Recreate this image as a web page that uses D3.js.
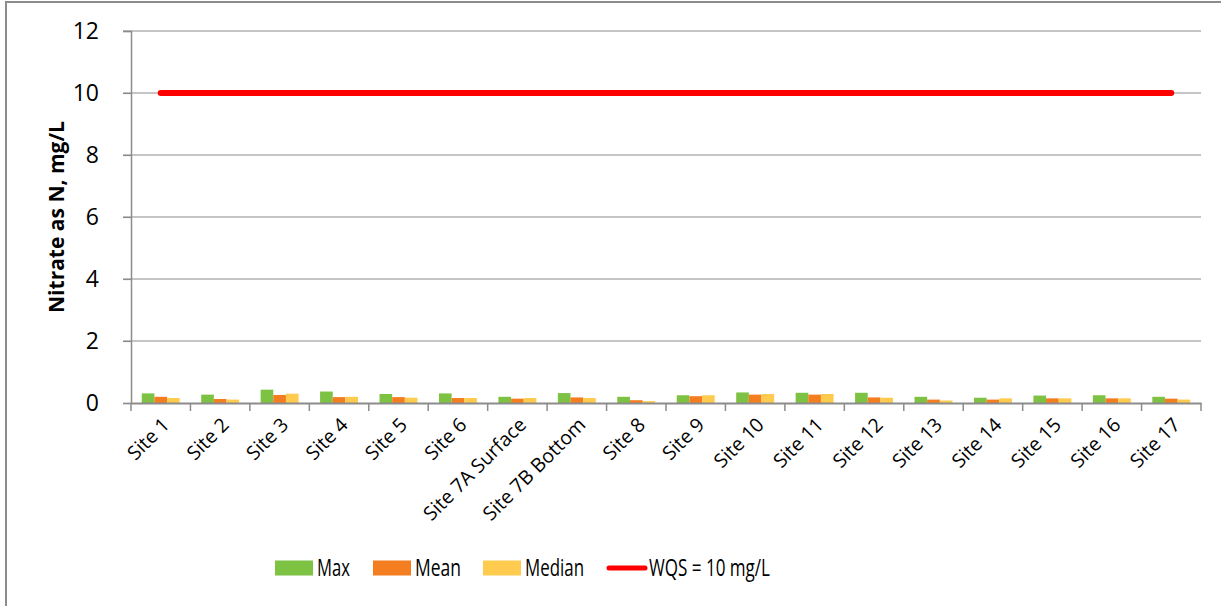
<!DOCTYPE html>
<html>
<head>
<meta charset="utf-8">
<script src="https://cdn.jsdelivr.net/npm/d3@7"></script>
<style>
  body { margin: 0; background: #fff; }
  text { font-family: "Open Sans", sans-serif; fill: #000; }
</style>
</head>
<body>
<svg id="chart" width="1221" height="606"></svg>
<script>
var sites = ["Site 1", "Site 2", "Site 3", "Site 4", "Site 5", "Site 6", "Site 7A Surface", "Site 7B Bottom",
  "Site 8", "Site 9", "Site 10", "Site 11", "Site 12", "Site 13", "Site 14", "Site 15", "Site 16", "Site 17"]
var maxValues    = [0.31, 0.27, 0.43, 0.37, 0.29, 0.31, 0.20, 0.32, 0.20, 0.25, 0.34, 0.33, 0.33, 0.20, 0.17, 0.24, 0.25, 0.20]
var meanValues   = [0.20, 0.13, 0.26, 0.19, 0.19, 0.16, 0.14, 0.18, 0.09, 0.22, 0.27, 0.27, 0.18, 0.11, 0.11, 0.15, 0.15, 0.14]
var medianValues = [0.16, 0.11, 0.30, 0.20, 0.17, 0.16, 0.16, 0.16, 0.06, 0.25, 0.29, 0.29, 0.17, 0.08, 0.15, 0.15, 0.15, 0.11]
var wqs = 10
var yTicks = [0, 2, 4, 6, 8, 10, 12]

var series = [
  { name: "Max", values: maxValues, color: "#7dc242" },
  { name: "Mean", values: meanValues, color: "#f47d20" },
  { name: "Median", values: medianValues, color: "#ffcb4e" }
]

var svg = d3.select("#chart")

// outer frame (runs off right and bottom edges like the original)
svg.append("rect")
  .attr("x", 6).attr("y", 2)
  .attr("width", 1300).attr("height", 700)
  .attr("fill", "none").attr("stroke", "#8c8c8c").attr("stroke-width", 2)

var plotLeft = 131, plotRight = 1201, plotTop = 31, plotBottom = 403

var x = d3.scaleBand().domain(sites).range([plotLeft, plotRight]).padding(0)
var xSub = d3.scaleBand().domain(series.map(function(s){ return s.name }))
  .range([0, x.bandwidth()]).paddingInner(0).paddingOuter(0.85)
var y = d3.scaleLinear().domain([0, 12]).range([plotBottom, plotTop])

// gridlines
svg.append("g").selectAll("line")
  .data(yTicks.filter(function(d){ return d > 0 }))
  .enter().append("line")
  .attr("x1", plotLeft - 8).attr("x2", plotRight)
  .attr("y1", function(d){ return y(d) }).attr("y2", function(d){ return y(d) })
  .attr("stroke", "#8c8c8c").attr("stroke-width", 1.2)

// y axis
var yAxis = svg.append("g").attr("transform", "translate(" + plotLeft + ",0)")
  .call(d3.axisLeft(y).tickValues(yTicks).tickSize(8).tickPadding(24))
yAxis.select(".domain").attr("stroke", "#8c8c8c").attr("stroke-width", 1.5)
yAxis.selectAll(".tick line").attr("stroke", "#8c8c8c").attr("stroke-width", 1.2)
yAxis.selectAll(".tick text").style("font-size", "23px").attr("fill", "#000")

// bars
series.forEach(function(s){
  svg.append("g").selectAll("rect")
    .data(s.values)
    .enter().append("rect")
    .attr("x", function(d, i){ return x(sites[i]) + xSub(s.name) })
    .attr("y", function(d){ return y(d) })
    .attr("width", xSub.bandwidth())
    .attr("height", function(d){ return y(0) - y(d) })
    .attr("fill", s.color)
})

// x axis
var xAxis = svg.append("g").attr("transform", "translate(0," + plotBottom + ")")
  .call(d3.axisBottom(x).tickSize(0).tickFormat(""))
xAxis.select(".domain").attr("stroke", "#8c8c8c").attr("stroke-width", 2)
xAxis.selectAll(".tick").remove()

// category boundary ticks
var bounds = sites.map(function(s){ return x(s) }).concat([plotRight])
svg.append("g").selectAll("line")
  .data(bounds)
  .enter().append("line")
  .attr("x1", function(d){ return d }).attr("x2", function(d){ return d })
  .attr("y1", plotBottom).attr("y2", plotBottom + 8)
  .attr("stroke", "#8c8c8c").attr("stroke-width", 1.5)

// rotated labels
svg.append("g").selectAll("text")
  .data(sites)
  .enter().append("text")
  .attr("transform", function(d){
    return "translate(" + (x(d) + x.bandwidth() / 2 + 10) + "," + (plotBottom + 23) + ") rotate(-45)"
  })
  .attr("text-anchor", "end")
  .style("font-size", "19.5px")
  .text(function(d){ return d })

// WQS line
var line = d3.line()
  .x(function(d){ return x(d) + x.bandwidth() / 2 })
  .y(function(){ return y(wqs) })
svg.append("path")
  .datum(sites)
  .attr("d", line)
  .attr("fill", "none")
  .attr("stroke", "#ff0000")
  .attr("stroke-width", 6)
  .attr("stroke-linecap", "round")

// y title
svg.append("text")
  .attr("transform", "translate(64," + ((plotTop + plotBottom) / 2) + ") rotate(-90)")
  .attr("text-anchor", "middle")
  .style("font-size", "21px")
  .style("font-weight", "bold")
  .text("Nitrate as N, mg/L")

// legend
var legendY = 568
var legendItems = [
  { name: "Max", color: "#7dc242", x: 275, w: 33, type: "rect" },
  { name: "Mean", color: "#f47d20", x: 373, w: 46, type: "rect" },
  { name: "Median", color: "#ffcb4e", x: 483, w: 59, type: "rect" },
  { name: "WQS = 10 mg/L", color: "#ff0000", x: 607, w: 121, type: "line" }
]
var legend = svg.append("g")
legendItems.forEach(function(item){
  if (item.type == "rect") {
    legend.append("rect")
      .attr("x", item.x).attr("y", legendY - 7.5)
      .attr("width", 38).attr("height", 15)
      .attr("fill", item.color)
  } else {
    legend.append("line")
      .attr("x1", item.x + 2).attr("x2", item.x + 38)
      .attr("y1", legendY).attr("y2", legendY)
      .attr("stroke", item.color).attr("stroke-width", 5)
      .attr("stroke-linecap", "round")
  }
  legend.append("text")
    .attr("x", item.x + 42).attr("y", legendY)
    .attr("dy", "0.36em")
    .attr("textLength", item.w)
    .attr("lengthAdjust", "spacingAndGlyphs")
    .style("font-size", "23px")
    .text(item.name)
})
</script>
</body>
</html>
